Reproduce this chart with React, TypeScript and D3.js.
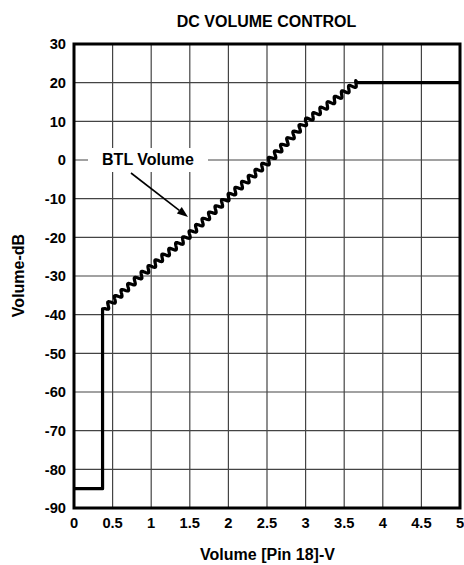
import React from "react";
import * as d3 from "d3";

// Curve data: volume control voltage (V) vs gain (dB)
const controlVolts = [0, 0.37, 0.37, 0.4, 0.86, 1.46, 1.98, 2.54, 3.01, 3.67, 5];
const gainDb = [-85, -85, -38.5, -38.4, -30, -20, -10, 0, 10, 20, 20];
// indices of the stepped (rippled) ramp section
const rampFrom = 3;
const rampTo = 9;

const xTicks = [0, 0.5, 1, 1.5, 2, 2.5, 3, 3.5, 4, 4.5, 5];
const yTicks = [-90, -80, -70, -60, -50, -40, -30, -20, -10, 0, 10, 20, 30];

const title = "DC VOLUME CONTROL";
const xTitle = "Volume [Pin 18]-V";
const yTitle = "Volume-dB";
const annotation = "BTL Volume";

const W = 464;
const H = 565;
const M = { left: 74, right: 460, top: 44, bottom: 508 };
const FONT = "'Liberation Sans', Arial, sans-serif";

export default function App() {
  const x = d3.scaleLinear().domain([0, 5]).range([M.left, M.right]);
  const y = d3.scaleLinear().domain([-90, 30]).range([M.bottom, M.top]);

  const pts: [number, number][] = controlVolts.map((v, i) => [x(v), y(gainDb[i])]);

  // build rendered path with ripple along ramp
  const out: [number, number][] = [];
  for (let i = 0; i <= rampFrom; i++) out.push(pts[i]);
  const period = 9;
  const amp = 2.8;
  let s = 0;
  for (let i = rampFrom; i < rampTo; i++) {
    const [x0, y0] = pts[i];
    const [x1, y1] = pts[i + 1];
    const len = Math.hypot(x1 - x0, y1 - y0);
    const ux = (x1 - x0) / len;
    const uy = (y1 - y0) / len;
    const nx = -uy;
    const ny = ux;
    const n = Math.ceil(len / 0.5);
    for (let k = 1; k <= n; k++) {
      const t = (k / n) * len;
      const ss = s + t;
      const off = amp * Math.sin((2 * Math.PI * ss) / period);
      out.push([x0 + ux * t + nx * off, y0 + uy * t + ny * off]);
    }
    s += len;
  }
  for (let i = rampTo; i < pts.length; i++) out.push(pts[i]);

  const line = d3.line<[number, number]>();
  const d = line(out) || "";

  // arrow
  const ax0 = 131, ay0 = 173, ax1 = 188, ay1 = 217;
  const ang = Math.atan2(ay1 - ay0, ax1 - ax0);
  const hl = 11, hw = 4;
  const bx = ax1 - hl * Math.cos(ang);
  const by = ay1 - hl * Math.sin(ang);
  const head = `M${ax1},${ay1}L${bx - hw * Math.sin(ang)},${by + hw * Math.cos(ang)}L${bx + hw * Math.sin(ang)},${by - hw * Math.cos(ang)}Z`;

  return (
    <svg
      width={W}
      height={H}
      style={{ position: "absolute", left: 0, top: 0, background: "#fff" }}
      fontFamily={FONT}
      fontWeight="bold"
    >
      <rect x={0} y={0} width={W} height={H} fill="#fff" />
      {/* grid */}
      {xTicks.map((t) => (
        <line key={"gx" + t} x1={x(t)} x2={x(t)} y1={M.top} y2={M.bottom} stroke="#444" strokeWidth={1.2} />
      ))}
      {yTicks.map((t) => (
        <line key={"gy" + t} x1={M.left} x2={M.right} y1={y(t)} y2={y(t)} stroke="#444" strokeWidth={1.2} />
      ))}
      {/* annotation background */}
      <rect x={88} y={148} width={120} height={24} fill="#fff" />
      <text x={148} y={165} textAnchor="middle" fontSize={16} fill="#000">
        {annotation}
      </text>
      <line x1={ax0} y1={ay0} x2={bx} y2={by} stroke="#000" strokeWidth={1.6} />
      <path d={head} fill="#000" />
      {/* curve */}
      <path d={d} fill="none" stroke="#000" strokeWidth={3.2} strokeLinejoin="round" />
      {/* frame */}
      <rect x={M.left} y={M.top} width={M.right - M.left} height={M.bottom - M.top} fill="none" stroke="#000" strokeWidth={3} />
      {/* tick labels */}
      {xTicks.map((t) => (
        <text key={"tx" + t} x={x(t)} y={528} textAnchor="middle" fontSize={14.7} fill="#000">
          {String(t)}
        </text>
      ))}
      {yTicks.map((t) => (
        <text key={"ty" + t} x={66} y={y(t) + 5.3} textAnchor="end" fontSize={14.7} fill="#000">
          {String(t)}
        </text>
      ))}
      <text x={266.5} y={26.7} textAnchor="middle" fontSize={16} fill="#000">
        {title}
      </text>
      <text x={267.5} y={560} textAnchor="middle" fontSize={16} fill="#000">
        {xTitle}
      </text>
      <text
        transform={`translate(${24},${275.5}) rotate(-90)`}
        textAnchor="middle"
        fontSize={16}
        fill="#000"
      >
        {yTitle}
      </text>
    </svg>
  );
}
